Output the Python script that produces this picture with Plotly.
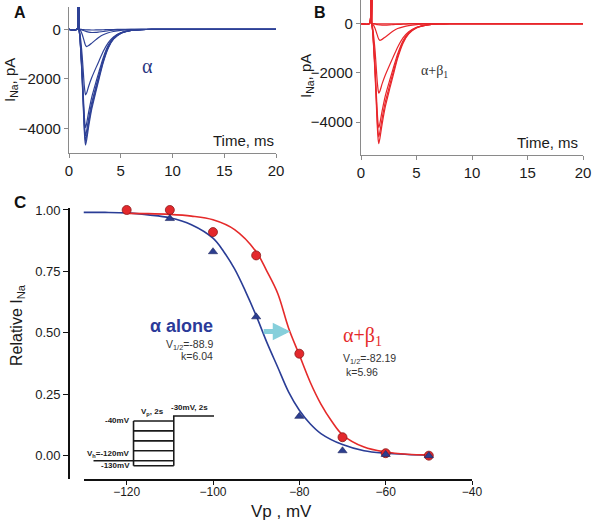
import plotly.graph_objects as go

# ---------------- Data ----------------
# Panels A / B : sodium current traces (time in ms, current in pA)
time_ms = [0, 0.77, 0.78, 0.96, 0.97, 1.05, 1.15, 1.27, 1.37, 1.47, 1.55, 1.6, 1.7,
           1.9, 2.2, 2.6, 2.9, 3.3, 3.8, 4.3, 5, 6, 7, 8, 20]

alpha_i1 = [0, 0, 3000, 3000, 0, -304, -1006, -2012, -3019, -4025, -4530, -4680, -4479,
            -3927, -3220, -2518, -2012, -1357, -753, -402, -173, -51, -14, 0, 0]
alpha_i2 = [0, 0, 3000, 3000, 0, -293, -968, -1935, -2903, -3870, -4356, -4500, -4307,
            -3776, -3096, -2421, -1935, -1305, -725, -387, -167, -50, -14, 0, 0]
alpha_i3 = [0, 0, 3000, 3000, 0, -280, -925, -1849, -2774, -3698, -4162, -4300, -4115,
            -3608, -2958, -2313, -1849, -1247, -692, -370, -159, -47, -13, 0, 0]
alpha_i4 = [0, 0, 3000, 3000, 0, -259, -856, -1711, -2567, -3423, -3853, -3980, -3809,
            -3339, -2738, -2141, -1711, -1154, -641, -342, -147, -44, -12, 0, 0]
alpha_i5 = [0, 0, 3000, 3000, 0, -150, -500, -1050, -1650, -2250, -2550, -2650, -2580,
            -2300, -1950, -1560, -1280, -900, -540, -310, -140, -45, -12, 0, 0]
alpha_i6 = [0, 0, 3000, 3000, 0, -20, -80, -200, -340, -480, -600, -650, -700,
            -660, -560, -420, -320, -220, -140, -90, -45, -18, -6, 0, 0]
alpha_i7 = [0, 0, 3000, 3000, 0, -5, -15, -30, -45, -60, -70, -80, -95,
            -115, -130, -125, -110, -90, -60, -40, -20, -8, -3, 0, 0]
alpha_i8 = [0, 0, 3000, 3000, 0, 0, -5, -10, -15, -18, -20, -22, -25,
            -28, -30, -28, -25, -20, -15, -10, -5, -2, 0, 0, 0]

beta_i1 = [0, 0, 3000, 3000, 0, -317, -1049, -2098, -3148, -4197, -4724, -4880, -4670,
           -4094, -3357, -2625, -2098, -1415, -786, -420, -181, -54, -15, 0, 0]
beta_i2 = [0, 0, 3000, 3000, 0, -299, -989, -1978, -2967, -3956, -4453, -4600, -4402,
           -3859, -3165, -2475, -1978, -1334, -741, -396, -170, -51, -14, 0, 0]
beta_i3 = [0, 0, 3000, 3000, 0, -276, -912, -1823, -2735, -3646, -4104, -4240, -4058,
           -3557, -2917, -2281, -1823, -1230, -683, -365, -157, -47, -13, 0, 0]
beta_i4 = [0, 0, 3000, 3000, 0, -160, -540, -1120, -1760, -2400, -2720, -2830, -2750,
           -2450, -2080, -1660, -1360, -960, -570, -330, -150, -48, -13, 0, 0]
beta_i5 = [0, 0, 3000, 3000, 0, -20, -80, -200, -330, -470, -580, -630, -680,
           -640, -540, -400, -300, -200, -130, -80, -40, -15, -5, 0, 0]
beta_i6 = [0, 0, 3000, 3000, 0, -3, -10, -20, -30, -40, -45, -50, -55,
           -60, -58, -50, -42, -32, -22, -14, -7, -3, -1, 0, 0]
beta_i7 = [0, 0, 3000, 3000, 0, 0, -2, -4, -6, -8, -9, -10, -11,
           -12, -12, -11, -10, -8, -6, -4, -2, -1, 0, 0, 0]

# Panel C : steady-state inactivation
vp_alpha = [-110, -100, -90, -80, -70, -60, -50]
rel_alpha = [0.965, 0.83, 0.565, 0.16, 0.02, 0.005, 0.0]
vp_beta = [-120, -110, -100, -90, -80, -70, -60, -50]
rel_beta = [1.0, 1.0, 0.91, 0.815, 0.415, 0.075, 0.01, 0.0]

# fitted Boltzmann curves
fit_alpha_v = [-130, -125, -120, -115, -110, -105, -100, -97.5, -95, -92.5, -90, -87.5,
               -85, -82.5, -80, -77.5, -75, -70, -65, -60, -55, -50]
fit_alpha_y = [0.99, 0.99, 0.988, 0.98, 0.968, 0.94, 0.885, 0.83, 0.76, 0.67, 0.57, 0.46,
               0.36, 0.26, 0.185, 0.13, 0.09, 0.045, 0.02, 0.01, 0.005, 0.002]
fit_beta_v = [-120, -115, -110, -105, -100, -95, -90, -87.5, -85, -82.5, -80, -77.5,
              -75, -72.5, -70, -65, -60, -55, -50]
fit_beta_y = [0.986, 0.985, 0.982, 0.975, 0.96, 0.92, 0.83, 0.75, 0.66, 0.52, 0.41, 0.30,
              0.21, 0.14, 0.085, 0.035, 0.015, 0.006, 0.003]

# Voltage protocol inset (time in s, potential in mV)
protocol_hold_mv = -120
protocol_pre_mv = [-40, -60, -80, -100, -120, -130]
protocol_test_mv = -30
protocol_t = [-2, 0, 2, 4]

# ---------------- Styles ----------------
BLUE = "#2e4196"
RED = "#e8262b"
FONT = "Arial, Liberation Sans, sans-serif"
SERIF = "Times New Roman, Liberation Serif, serif"

W, H = 600, 522
def py(px):
    return 1 - px / H

fig = go.Figure()

for tr in [alpha_i8, alpha_i7, alpha_i6, alpha_i5, alpha_i4, alpha_i3, alpha_i2, alpha_i1]:
    fig.add_trace(go.Scatter(x=time_ms, y=tr, mode="lines", xaxis="x", yaxis="y",
                             line=dict(color=BLUE, width=1.2, shape="spline", smoothing=0.6),
                             showlegend=False, hoverinfo="skip"))
for tr in [beta_i7, beta_i6, beta_i5, beta_i4, beta_i3, beta_i2, beta_i1]:
    fig.add_trace(go.Scatter(x=time_ms, y=tr, mode="lines", xaxis="x2", yaxis="y2",
                             line=dict(color=RED, width=1.2, shape="spline", smoothing=0.6),
                             showlegend=False, hoverinfo="skip"))

# Panel C curves and points
fig.add_trace(go.Scatter(x=fit_alpha_v, y=fit_alpha_y, mode="lines", xaxis="x3", yaxis="y3",
                         line=dict(color="#2a3d96", width=1.6, shape="spline"), showlegend=False))
fig.add_trace(go.Scatter(x=fit_beta_v, y=fit_beta_y, mode="lines", xaxis="x3", yaxis="y3",
                         line=dict(color="#e52a2a", width=1.6, shape="spline"), showlegend=False))
fig.add_trace(go.Scatter(x=vp_beta, y=rel_beta, mode="markers", xaxis="x3", yaxis="y3",
                         cliponaxis=False,
                         marker=dict(symbol="circle", size=9, color="#e3282c",
                                     line=dict(color="#8b1a1a", width=0.8)), showlegend=False))
fig.add_trace(go.Scatter(x=vp_alpha, y=rel_alpha, mode="markers", xaxis="x3", yaxis="y3",
                         cliponaxis=False,
                         marker=dict(symbol="triangle-up", size=8, color="#2c3e8f",
                                     line=dict(color="#1c2560", width=0.6)), showlegend=False))

# Protocol inset built from the level lists
px_, py_ = [], []
px_ += [protocol_t[0], protocol_t[1], None]
py_ += [protocol_hold_mv, protocol_hold_mv, None]
px_ += [protocol_t[1], protocol_t[1], None]
py_ += [min(protocol_pre_mv), max(protocol_pre_mv), None]
for lv in protocol_pre_mv:
    px_ += [protocol_t[1], protocol_t[2], None]
    py_ += [lv, lv, None]
px_ += [protocol_t[2], protocol_t[2], protocol_t[3]]
py_ += [min(protocol_pre_mv), protocol_test_mv, protocol_test_mv]
fig.add_trace(go.Scatter(x=px_, y=py_, mode="lines", xaxis="x4", yaxis="y4",
                         line=dict(color="#1a1a1a", width=1.6), showlegend=False,
                         hoverinfo="skip"))

GRAY = "#8a8a8a"
tickfont_ab = dict(family=FONT, size=15, color="#1a1a1a")
common_ab = dict(showline=True, linecolor=GRAY, linewidth=1.2, ticks="outside",
                 ticklen=4, tickcolor=GRAY, showgrid=False, zeroline=False,
                 tickfont=tickfont_ab, automargin=False)

fig.update_layout(
    template="none",
    width=W, height=H, margin=dict(l=0, r=0, t=0, b=0, pad=0),
    paper_bgcolor="white", plot_bgcolor="white",
    xaxis=dict(domain=[69/W, 276/W], range=[0, 20], tickvals=[0, 5, 10, 15, 20],
               anchor="y", **common_ab),
    yaxis=dict(domain=[py(153), py(7)], range=[-5000, 900], tickvals=[0, -2000, -4000],
               anchor="x", **common_ab),
    xaxis2=dict(domain=[361/W, 583/W], range=[0, 20], tickvals=[0, 5, 10, 15, 20],
                anchor="y2", **common_ab),
    yaxis2=dict(domain=[py(155), py(0)], range=[-5340, 960], tickvals=[0, -2000, -4000],
                anchor="x2", **common_ab),
    xaxis3=dict(domain=[83.5/W, 472/W], range=[-130, -40],
                tickvals=[-120, -100, -80, -60, -40], anchor="y3", automargin=False,
                showline=True, linecolor="#111", linewidth=1.6, ticks="outside",
                ticklen=4, tickcolor="#111", showgrid=False, zeroline=False,
                ticklabelstandoff=-3,
                tickfont=dict(family=FONT, size=12, color="#1a1a1a")),
    yaxis3=dict(domain=[py(479), py(208)], range=[-0.095, 1.008],
                tickvals=[0, 0.25, 0.5, 0.75, 1.0], ticktext=["0.00", "0.25", "0.50", "0.75", "1.00"],
                anchor="free", position=69/W, automargin=False,
                showline=True, linecolor="#111", linewidth=1.6, ticks="outside",
                ticklen=5, tickcolor="#111", showgrid=False, zeroline=False,
                tickfont=dict(family=FONT, size=13, color="#1a1a1a")),
    xaxis4=dict(domain=[93.3/W, 214/W], range=[-2, 4], visible=False, anchor="y4",
                automargin=False),
    yaxis4=dict(domain=[py(470), py(405)], range=[-138.65, -7.87], visible=False, anchor="x4",
                automargin=False),
)

ann = []
def A(**k):
    d = dict(showarrow=False)
    d.update(k)
    ann.append(d)

def P(text, xpx, ypx, font, **k):
    A(text=text, x=xpx / W, y=py(ypx), xref="paper", yref="paper",
      xanchor=k.pop("xanchor", "center"), yanchor="middle", font=font, **k)

# panel letters
P("<b>A</b>", 20, 13, dict(family=FONT, size=16, color="#111"))
P("<b>B</b>", 320, 13, dict(family=FONT, size=16, color="#111"))
P("<b>C</b>", 20, 203, dict(family=FONT, size=17, color="#111"))

# y titles A, B
P("I<sub>Na</sub>, pA", 11, 80, dict(family=FONT, size=15, color="#1a1a1a"), textangle=-90)
P("I<sub>Na</sub>, pA", 306, 76, dict(family=FONT, size=15, color="#1a1a1a"), textangle=-90)

# Time, ms
A(text="Time, ms", x=20, y=-4513, xref="x", yref="y", xanchor="right", yanchor="middle",
  font=dict(family=FONT, size=15, color="#1a1a1a"))
A(text="Time, ms", x=19.7, y=-4850, xref="x2", yref="y2", xanchor="right", yanchor="middle",
  font=dict(family=FONT, size=15, color="#1a1a1a"))

# inner labels A, B
A(text="α", x=7.6, y=-1480, xref="x", yref="y",
  font=dict(family=SERIF, size=20, color="#2a3580"))
A(text="α+β<sub>1</sub>", x=6.6, y=-1960, xref="x2", yref="y2",
  font=dict(family=SERIF, size=14, color="#333"))

# panel C axis titles
P("Vp , mV", 281, 511, dict(family=FONT, size=17, color="#1a1a1a"))
P("Relative I<sub>Na</sub>", 17, 325, dict(family=FONT, size=16, color="#1a1a1a"),
  textangle=-90)

# panel C labels
A(text="<b>α alone</b>", x=-107.3, y=0.527, xref="x3", yref="y3",
  font=dict(family=FONT, size=18, color="#2b3a99"))
A(text="V<sub>1/2</sub>=-88.9", x=-99.5, y=0.452, xref="x3", yref="y3", xanchor="right",
  font=dict(family=FONT, size=10.5, color="#333"))
A(text="k=6.04", x=-99.5, y=0.405, xref="x3", yref="y3", xanchor="right",
  font=dict(family=FONT, size=10.5, color="#333"))
A(text="α+β<sub>1</sub>", x=-70.4, y=0.485, xref="x3", yref="y3", xanchor="left",
  font=dict(family=SERIF, size=20, color="#e52a2a"))
A(text="V<sub>1/2</sub>=-82.19", x=-70.3, y=0.392, xref="x3", yref="y3", xanchor="left",
  font=dict(family=FONT, size=10.5, color="#333"))
A(text="k=5.96", x=-69.6, y=0.342, xref="x3", yref="y3", xanchor="left",
  font=dict(family=FONT, size=10.5, color="#333"))

# arrow
ann.append(dict(x=-82.1, y=0.505, ax=-88.6, ay=0.505, xref="x3", yref="y3",
                axref="x3", ayref="y3", showarrow=True, arrowhead=2, arrowsize=0.7,
                arrowwidth=5, arrowcolor="#86cfdb", text=""))

# protocol labels
pf = dict(family=FONT, size=8, color="#1a1a1a")
A(text="<b>-40mV</b>", x=-0.1, y=-40, xref="x4", yref="y4", xanchor="right", font=pf)
A(text="<b>V<sub>h</sub>=-120mV</b>", x=-0.1, y=-120, xref="x4", yref="y4", xanchor="right",
  yanchor="bottom", yshift=0, font=pf)
A(text="<b>-130mV</b>", x=-0.1, y=-130, xref="x4", yref="y4", xanchor="right", font=pf)
A(text="<b>V<sub>p</sub>, 2s</b>", x=0.93, y=-40, xref="x4", yref="y4", yanchor="bottom",
  yshift=2, font=pf)
A(text="<b>-30mV, 2s</b>", x=2.8, y=-30, xref="x4", yref="y4", yanchor="bottom",
  yshift=2, font=pf)

fig.update_layout(annotations=ann)
fig.write_html("out.html", config={"displayModeBar": False},
               post_script="document.body.style.margin='0px';")
